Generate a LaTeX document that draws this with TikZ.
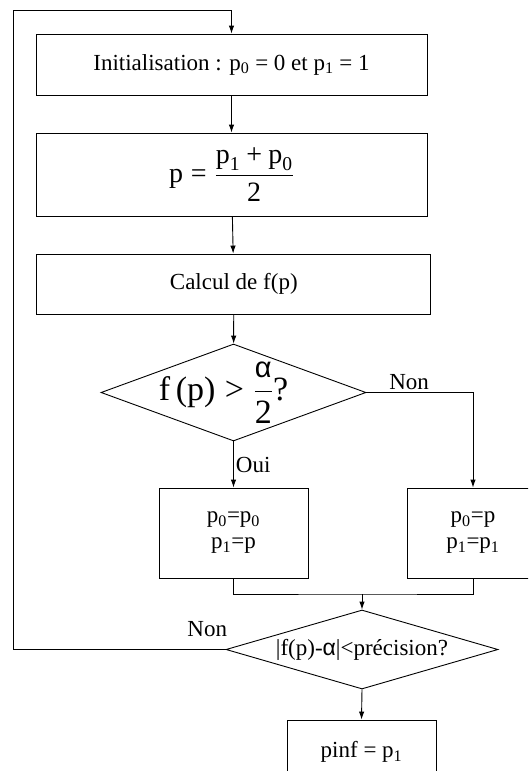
\documentclass[tikz,border=0pt]{standalone}
\usepackage{fix-cm}
\usepackage{amsmath}
\usepackage{fontspec}
\setmainfont{Liberation Serif}
\newfontfamily\grk{Liberation Sans}
\usetikzlibrary{arrows.meta, positioning, shapes.geometric}

\begin{document}
\begin{tikzpicture}[x=1pt, y=-1pt, line width=0.9pt,
  every node/.style={font=\fontsize{23}{26}\selectfont},
  box/.style={draw, rectangle, inner sep=0pt, align=center},
  cond/.style={draw, diamond, inner sep=0pt},
  lbl/.style={inner sep=2pt},
  arr/.style={-{Latex[length=8pt, width=5.5pt]}}]
  \useasboundingbox (0,0) rectangle (528,771);
  \clip (0,0) rectangle (528,771);
  \node[box, minimum width=391pt, minimum height=61pt] (init) at (231.5,64.5) {Initialisation : p\textsubscript{0} = 0 et p\textsubscript{1} = 1};
  \node[box, minimum width=391pt, minimum height=83pt, font=\fontsize{28}{32}\selectfont] (moy) at (231.5,174.5) {$\text{p} \mathrel{\text{=}} \dfrac{\text{p}_{\text{1}} \mathbin{\text{+}} \text{p}_{\text{0}}}{\text{2}}$};
  \node[box, minimum width=394pt, minimum height=60pt] (calc) at (233.8,284) {Calcul de f(p)};
  \node[cond, minimum width=265pt, minimum height=97pt,
    label={[font=\fontsize{34}{40}\selectfont, xshift=-10pt]center:{$\text{f\,(p)} \mathrel{\text{>}} \dfrac{\text{\grk\fontsize{29}{30}\selectfont α}}{\text{2}}\text{?}$}}] (test) at (233.5,392.5) {};
  \node[box, minimum width=149pt, minimum height=90pt] (oui) at (233.5,533) {p\textsubscript{0}=p\textsubscript{0}\\p\textsubscript{1}=p};
  \node[box, minimum width=132pt, minimum height=90pt] (non) at (473,533) {p\textsubscript{0}=p\\p\textsubscript{1}=p\textsubscript{1}};
  \node[cond, minimum width=272pt, minimum height=79pt,
    label={center:{|f(p)-{\grk α}|<précision?}}] (prec) at (362,649.5) {};
  \node[box, minimum width=149pt, minimum height=64pt] (fin) at (361.5,752) {pinf = p\textsubscript{1}};
  \coordinate (haut) at (13,10);
  \coordinate (join) at (362,594);
  % liaisons
  \draw[arr] (init) -- (moy);
  \draw[arr] (moy) -- (calc);
  \draw[arr] (calc) -- (test);
  \draw[arr] (test.east) -| node[lbl, pos=0.2, above] {Non} (non.north);
  \draw[arr] (test.south) -- node[lbl, right] {Oui} (oui.north);
  \draw (oui.south) |- (join) -| (non.south);
  \draw[arr] (join) -- (prec.north);
  \draw[arr] (prec.west) -- node[lbl, pos=0, anchor=south east, xshift=4pt, yshift=10pt] {Non} (haut |- prec.west) -- (haut) -| (init.north);
  \draw[arr] (prec.south) -- (fin.north);
\end{tikzpicture}
\end{document}
